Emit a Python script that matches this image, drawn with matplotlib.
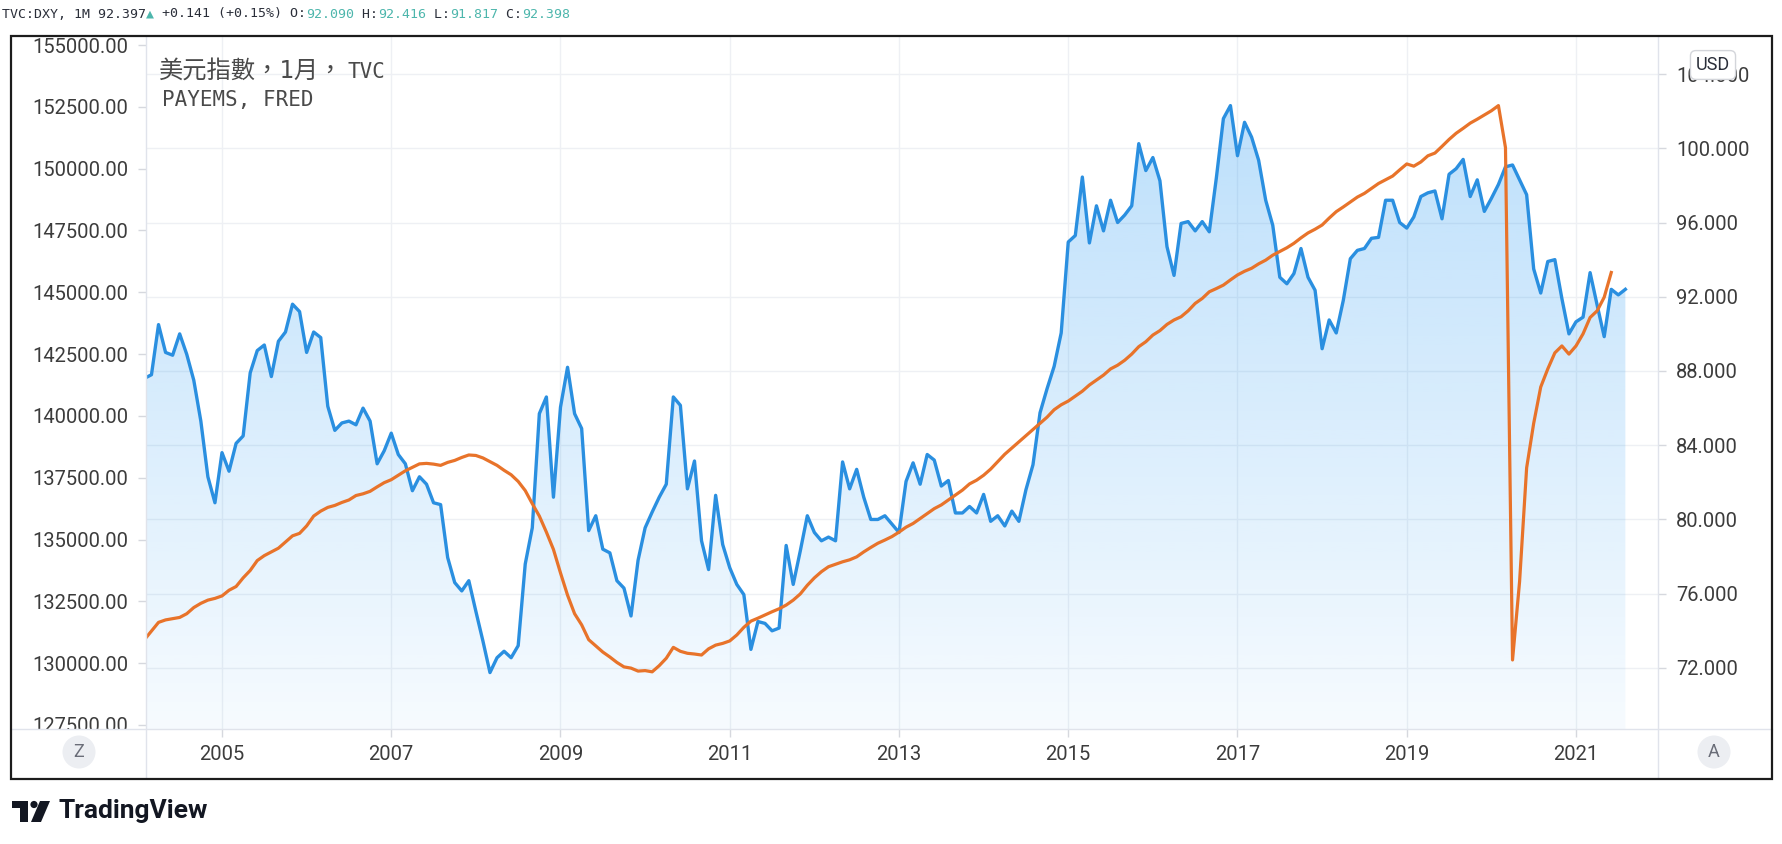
import numpy as np
import matplotlib
matplotlib.use("Agg")
import matplotlib.pyplot as plt
from matplotlib.patches import Circle, Polygon, Rectangle
from matplotlib.lines import Line2D
from matplotlib.transforms import IdentityTransform

# ---- data (monthly) ----
start_year, start_month = 2004, 2

# TVC:DXY monthly close, Feb 2004 .. Aug 2021
dxy = [
    87.6, 87.8, 90.5, 89.0, 88.85, 90.0, 88.9, 87.5, 85.3, 82.3, 80.9,          # 2004
    83.6, 82.6, 84.1, 84.5, 87.9, 89.1, 89.4, 87.7, 89.6, 90.1, 91.6, 91.2,     # 2005
    89.0, 90.1, 89.8, 86.1, 84.8, 85.2, 85.3, 85.1, 86.0, 85.3, 83.0, 83.7,     # 2006
    84.65, 83.5, 83.0, 81.55, 82.3, 81.9, 80.9, 80.8, 77.95, 76.6, 76.15, 76.7, # 2007
    75.05, 73.45, 71.75, 72.55, 72.9, 72.55, 73.2, 77.6, 79.55, 85.7, 86.6, 81.2,  # 2008
    86.05, 88.2, 85.7, 84.9, 79.4, 80.2, 78.4, 78.2, 76.7, 76.3, 74.8, 77.8,    # 2009
    79.55, 80.4, 81.2, 81.9, 86.6, 86.15, 81.65, 83.15, 78.85, 77.3, 81.3, 78.65,  # 2010
    77.4, 76.5, 75.95, 73.0, 74.5, 74.4, 74.0, 74.15, 78.6, 76.5, 78.3, 80.2,   # 2011
    79.3, 78.85, 79.05, 78.85, 83.1, 81.65, 82.7, 81.2, 80.0, 80.0, 80.2, 79.75,  # 2012
    79.3, 82.05, 83.05, 81.9, 83.5, 83.2, 81.8, 82.1, 80.35, 80.35, 80.7, 80.35,  # 2013
    81.35, 79.9, 80.2, 79.65, 80.45, 79.9, 81.6, 82.95, 85.75, 87.05, 88.25, 90.05,  # 2014
    94.95, 95.3, 98.45, 94.9, 96.9, 95.55, 97.2, 96.0, 96.4, 96.9, 100.25, 98.8,  # 2015
    99.5, 98.25, 94.7, 93.15, 95.95, 96.05, 95.55, 96.05, 95.5, 98.4, 101.6, 102.3,  # 2016
    99.6, 101.4, 100.6, 99.35, 97.2, 95.85, 93.05, 92.7, 93.25, 94.6, 93.05, 92.35,  # 2017
    89.2, 90.75, 90.05, 91.8, 94.05, 94.5, 94.6, 95.15, 95.2, 97.2, 97.2, 96.0,  # 2018
    95.7, 96.3, 97.4, 97.6, 97.7, 96.2, 98.6, 98.9, 99.4, 97.4, 98.3, 96.6,     # 2019
    97.3, 98.05, 99.0, 99.1, 98.3, 97.5, 93.5, 92.2, 93.9, 94.0, 91.9, 90.0,    # 2020
    90.65, 90.9, 93.3, 91.55, 89.85, 92.4, 92.1, 92.4,                          # 2021
]

# PAYEMS (FRED), Feb 2004 .. Jun 2021
payems = [
    130950, 131300, 131650, 131750, 131800, 131850, 132000, 132250, 132420, 132550, 132620,
    132720, 132950, 133100, 133450, 133750, 134150, 134350, 134500, 134650, 134900, 135150, 135250,
    135550, 135950, 136150, 136300, 136380, 136500, 136600, 136780, 136850, 136950, 137130, 137300,
    137420, 137600, 137780, 137920, 138060, 138080, 138050, 138000, 138120, 138200, 138320, 138420,
    138400, 138300, 138150, 138000, 137800, 137620, 137350, 136980, 136450, 135950, 135300, 134600,
    133650, 132750, 132000, 131550, 130950, 130700, 130450, 130250, 130030, 129850, 129800, 129680,
    129700, 129650, 129900, 130200, 130640, 130480, 130400, 130370, 130330, 130580, 130730, 130800,
    130900, 131140, 131450, 131700, 131820, 131950, 132080, 132200, 132350, 132550, 132800, 133150,
    133450, 133700, 133900, 134000, 134100, 134180, 134300, 134500, 134680, 134850, 134980, 135120,
    135300, 135500, 135650, 135850, 136050, 136250, 136400, 136600, 136800, 137000, 137250, 137400,
    137600, 137850, 138150, 138450, 138700, 138950, 139200, 139450, 139700, 139950, 140250, 140450,
    140600, 140800, 141000, 141250, 141450, 141650, 141900, 142050, 142250, 142500, 142800, 143000,
    143270, 143450, 143700, 143880, 144010, 144250, 144550, 144750, 145020, 145150, 145290, 145500,
    145700, 145850, 145970, 146150, 146300, 146500, 146650, 146800, 146980, 147200, 147400, 147550,
    147720, 148000, 148260, 148450, 148650, 148850, 149000, 149200, 149400, 149550, 149700, 149950,
    150190, 150100, 150270, 150520, 150630, 150900, 151180, 151430, 151630, 151840, 152000, 152170,
    152340, 152550, 150850, 130130, 133300, 137900, 139700, 141170, 141900, 142550, 142830, 142500,
    142830, 143320, 143980, 144250, 144800, 145800,
]

year_ticks = [2005, 2007, 2009, 2011, 2013, 2015, 2017, 2019, 2021]
dxy_ticks = [72, 76, 80, 84, 88, 92, 96, 100, 104]
payems_ticks = list(range(127500, 155001, 2500))

header = [
    ("TVC:DXY, 1M 92.397", "#2a2e39"), ("\u25b2", "#4db6ac"),
    (" +0.141 (+0.15%) O:", "#2a2e39"), ("92.090", "#4db6ac"),
    (" H:", "#2a2e39"), ("92.416", "#4db6ac"),
    (" L:", "#2a2e39"), ("91.817", "#4db6ac"),
    (" C:", "#2a2e39"), ("92.398", "#4db6ac"),
]

# ---- figure ----
W, H = 1783, 844
plt.rcParams["font.family"] = ["Roboto", "DejaVu Sans"]
fig = plt.figure(figsize=(W / 100, H / 100), dpi=100)
fig.patch.set_facecolor("white")
PIX = IdentityTransform()


def fx(px):
    return px / W


def fy(py):
    return 1 - py / H


ax = fig.add_axes([fx(146), fy(729), (1658 - 146) / W, (729 - 36) / H])
ax2 = ax.twinx()
ax.yaxis.tick_right()
ax2.yaxis.tick_left()

t0 = start_year + (start_month - 1) / 12
x_dxy = t0 + np.arange(len(dxy)) / 12
x_pay = t0 + np.arange(len(payems)) / 12

ylo, yhi = 68.71, 106.05
top = max(dxy)

# gradient area under the DXY line
grad = np.zeros((256, 1, 4))
grad[..., 0] = 33 / 255
grad[..., 1] = 150 / 255
grad[..., 2] = 243 / 255
grad[:, 0, 3] = np.linspace(0.30, 0.04, 256)
im = ax.imshow(grad, extent=[x_dxy[0], x_dxy[-1], ylo, top], aspect="auto",
               origin="upper", interpolation="bilinear", zorder=1)
verts = np.vstack([[x_dxy[0], ylo], np.column_stack([x_dxy, dxy]), [x_dxy[-1], ylo]])
im.set_clip_path(Polygon(verts, closed=True, transform=ax.transData))

ax.plot(x_dxy, dxy, color="#2a8fe0", lw=2.4, zorder=3, solid_joinstyle="round")
ax2.plot(x_pay, payems, color="#e8732a", lw=2.3, zorder=3, solid_joinstyle="round")

ax.set_xlim(2004.102, 2021.969)
ax.set_ylim(ylo, yhi)
ax2.set_ylim(127338, 155364)

for a in (ax, ax2):
    for s in a.spines.values():
        s.set_visible(False)

ax.set_xticks(year_ticks)
ax.set_xticklabels([str(y) for y in year_ticks])
ax.set_yticks(dxy_ticks)
ax.set_yticklabels([f"{v:.3f}" for v in dxy_ticks])
ax2.set_yticks(payems_ticks)
ax2.set_yticklabels([f"{v:.2f}" for v in payems_ticks])

tick_kw = dict(length=5.8, width=1, color="#d6d8de", labelsize=14.5, labelcolor="#3c3c3c")
ax.tick_params(axis="x", pad=5.6, **tick_kw)
ax.tick_params(axis="y", pad=7.2, **tick_kw)
ax2.tick_params(axis="y", pad=7.2, **tick_kw)

ax.grid(True, color="#eef0f4", lw=1, zorder=0)
ax.set_axisbelow(True)

# ---- frame and pane separators ----
fig.add_artist(Rectangle((12, H - 778), 133, 48, transform=PIX, fc="white", ec="none", zorder=2))
for xs, ys in [([11, 1772], [729, 729]), ([146, 146], [37, 778]), ([1658, 1658], [37, 778])]:
    fig.add_artist(Line2D(xs, [H - y for y in ys], transform=PIX, color="#e0e3eb", lw=1, zorder=3))
fig.add_artist(Rectangle((11, H - 779), 1761, 743, transform=PIX, fill=False,
                         ec="#1c1c1c", lw=1.6, zorder=6))

# Z / A buttons
for cx, letter in [(79, "Z"), (1714, "A")]:
    fig.add_artist(Circle((cx, H - 752), 16.5, transform=PIX, fc="#eceef2", ec="none", zorder=4))
    fig.text(fx(cx), fy(752), letter, ha="center", va="center", fontsize=13,
             color="#6a6d78", zorder=5)

# USD badge over the 104 label
fig.text(fx(1713), fy(65), "USD", ha="center", va="center", fontsize=13, color="#2a2e39",
         zorder=7, bbox=dict(boxstyle="round,pad=0.3", fc="white", ec="#d3d5da", lw=1))

# ---- header line ----
renderer = fig.canvas.get_renderer()
hfam = ["DejaVu Sans Mono", "DejaVu Sans"]
hs = 9.5
pos = 2
for txt, col in header:
    t = fig.text(fx(pos), fy(14), txt, ha="left", va="center", fontsize=hs, color=col,
                 family=hfam)
    pos += t.get_window_extent(renderer=renderer).width

# ---- series names ----
fam = ["DejaVu Sans Mono", "Noto Sans CJK TC", "DejaVu Sans"]
fig.text(fx(159), fy(71), "美元指數，1月，", ha="left", va="center", fontsize=17.5,
         color="#4a4a4a", family=fam, zorder=5)
fig.text(fx(347), fy(72), "TVC", ha="left", va="center", fontsize=15,
         color="#4a4a4a", family=fam, zorder=5)
fig.text(fx(162), fy(100), "PAYEMS, FRED", ha="left", va="center", fontsize=15,
         color="#4a4a4a", family=fam, zorder=5)

# ---- TradingView logo ----
logo = "#131722"
fig.add_artist(Polygon([(12, H - 801), (28, H - 801), (28, H - 822), (20, H - 822),
                        (20, H - 808), (12, H - 808)], closed=True, transform=PIX,
                       fc=logo, ec="none", zorder=5))
fig.add_artist(Circle((34, H - 804.5), 3.6, transform=PIX, fc=logo, ec="none", zorder=5))
fig.add_artist(Polygon([(40, H - 801), (50, H - 801), (41, H - 822), (31, H - 822)],
                       closed=True, transform=PIX, fc=logo, ec="none", zorder=5))
fig.text(fx(59), fy(811), "TradingView", ha="left", va="center", fontsize=19,
         fontweight="bold", color=logo)

fig.savefig("out.png", dpi=100, facecolor="white")
